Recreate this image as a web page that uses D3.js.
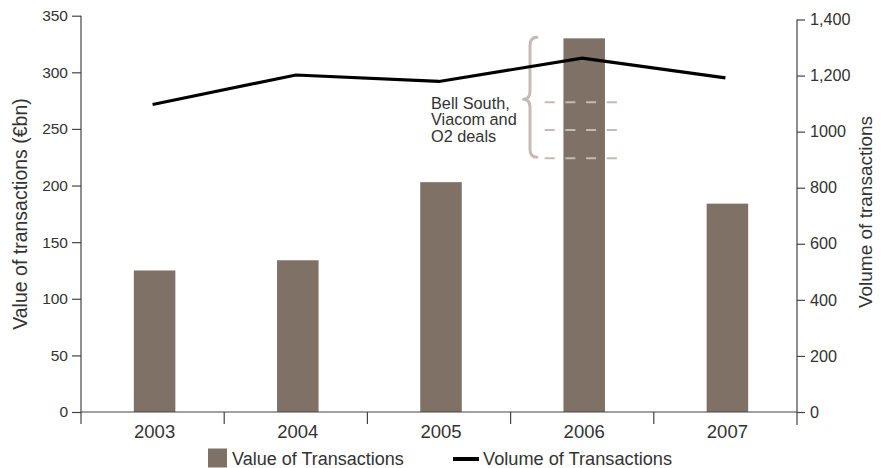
<!DOCTYPE html>
<html>
<head>
<meta charset="utf-8">
<script src="https://cdn.jsdelivr.net/npm/d3@7/dist/d3.min.js"></script>
<style>
  html, body { margin: 0; padding: 0; background: #fff; }
  svg { display: block; font-family: "Liberation Sans", Arial, Helvetica, sans-serif; }
</style>
</head>
<body>
<svg id="chart" width="884" height="468"></svg>
<script>
// Telecom M&A transactions, 2003–2007
const years = ["2003", "2004", "2005", "2006", "2007"];
const valueBn = [125, 134, 203, 330, 184];          // value of transactions (€bn)
const volume = [1097, 1202, 1179, 1262, 1192];      // number of transactions
const leftTicks = [0, 50, 100, 150, 200, 250, 300, 350];
const rightTicks = [0, 200, 400, 600, 800, 1000, 1200, 1400];
const rightTickLabels = ["0", "200", "400", "600", "800", "1000", "1,200", "1,400"];
const dealLines = ["Bell South,", "Viacom and", "O2 deals"];
const dealBracket = [225, 331];                      // €bn span covered by the three deals
const dealMarks = [273.5, 249, 224];                 // dashed reference levels (€bn)

const barColor = "#807167";
const textColor = "#333333";
const axisColor = "#444444";
const noteColor = "#c4bbb2";

const svg = d3.select("#chart");
const left = 81, right = 797, bottom = 412;

const x = d3.scaleBand().domain(years).range([left, right]).paddingInner(0).paddingOuter(0);
const yL = d3.scaleLinear().domain([0, 350]).range([bottom, 15.7]);
const yR = d3.scaleLinear().domain([0, 1400]).range([bottom, 19.5]);

// bars
const barW = x.bandwidth() * 0.29;
svg.append("g").selectAll("rect").data(years).join("rect")
  .attr("x", (d) => x(d) + x.bandwidth() / 2 - barW / 2 + 2)
  .attr("width", barW)
  .attr("y", (d, i) => yL(valueBn[i]))
  .attr("height", (d, i) => bottom - yL(valueBn[i]))
  .attr("fill", barColor);

// dashed reference lines over the 2006 bar
const c2006 = x("2006") + x.bandwidth() / 2;
svg.append("g").selectAll("line").data(dealMarks).join("line")
  .attr("x1", c2006 - 37.5).attr("x2", c2006 + 35.5)
  .attr("y1", (d) => yL(d)).attr("y2", (d) => yL(d))
  .attr("stroke", noteColor).attr("stroke-width", 2)
  .attr("stroke-dasharray", "10,10.7");

// curly bracket
(function () {
  const top = yL(dealBracket[1]), bot = yL(dealBracket[0]), mid = (top + bot) / 2 + 2;
  const bx = 530, tip = 523.5, hook = 537;
  const p = d3.path();
  p.moveTo(hook, top);
  p.quadraticCurveTo(bx, top, bx, top + 8);
  p.lineTo(bx, mid - 8);
  p.quadraticCurveTo(bx, mid, tip, mid);
  p.quadraticCurveTo(bx, mid, bx, mid + 8);
  p.lineTo(bx, bot - 8);
  p.quadraticCurveTo(bx, bot, hook, bot);
  svg.append("path").attr("d", p.toString())
    .attr("fill", "none").attr("stroke", noteColor).attr("stroke-width", 3)
    .attr("stroke-linecap", "round").attr("stroke-linejoin", "round");
})();

// annotation text
svg.append("text")
  .attr("x", 431).attr("y", 108.5)
  .attr("fill", textColor).attr("font-size", 16.3)
  .selectAll("tspan").data(dealLines).join("tspan")
  .attr("x", 431).attr("dy", (d, i) => i === 0 ? 0 : 16.8)
  .text((d) => d);

// volume line
const line = d3.line()
  .x((d, i) => x(years[i]) + x.bandwidth() / 2)
  .y((d) => yR(d));
svg.append("path").datum(volume)
  .attr("d", line)
  .attr("fill", "none").attr("stroke", "#000").attr("stroke-width", 3.2)
  .attr("stroke-linejoin", "miter");

// left axis
const gL = svg.append("g").attr("transform", `translate(${left},0)`)
  .call(d3.axisLeft(yL).tickValues(leftTicks).tickSize(9).tickPadding(4).tickFormat(d3.format("d")));
gL.select(".domain").remove();
gL.append("line").attr("x1", 0).attr("x2", 0).attr("y1", yL(350)).attr("y2", bottom + 12)
  .attr("stroke", axisColor).attr("stroke-width", 1.2);

// right axis
const gR = svg.append("g").attr("transform", `translate(${right},0)`)
  .call(d3.axisRight(yR).tickValues(rightTicks).tickSize(8).tickPadding(5)
    .tickFormat((d, i) => rightTickLabels[i]));
gR.select(".domain").remove();
gR.append("line").attr("x1", 0).attr("x2", 0).attr("y1", yR(1400)).attr("y2", bottom + 13)
  .attr("stroke", axisColor).attr("stroke-width", 1.2);

// bottom axis: baseline, boundary ticks, year labels
const gB = svg.append("g");
gB.append("line").attr("x1", left).attr("x2", right).attr("y1", bottom).attr("y2", bottom)
  .attr("stroke", axisColor).attr("stroke-width", 1.2);
gB.selectAll("line.sep").data(years.slice(1)).join("line").attr("class", "sep")
  .attr("x1", (d) => x(d)).attr("x2", (d) => x(d))
  .attr("y1", bottom).attr("y2", bottom + 12)
  .attr("stroke", axisColor).attr("stroke-width", 1.2);
gB.selectAll("text").data(years).join("text")
  .attr("x", (d) => x(d) + x.bandwidth() / 2 + 2)
  .attr("y", bottom + 25.5)
  .attr("text-anchor", "middle")
  .attr("fill", textColor).attr("font-size", 18.5)
  .text((d) => d);

gL.selectAll(".tick text").attr("font-size", 15.5);
gR.selectAll(".tick text").attr("font-size", 16.2);
[gL, gR].forEach((g) => {
  g.selectAll(".tick line").attr("stroke", axisColor).attr("stroke-width", 1.2);
  g.selectAll(".tick text").attr("fill", textColor)
    .attr("font-family", "Liberation Sans, Arial, sans-serif");
});

// axis titles
svg.append("text")
  .attr("transform", "translate(27,214) rotate(-90)")
  .attr("text-anchor", "middle").attr("fill", textColor).attr("font-size", 19.5)
  .text("Value of transactions (€bn)");
svg.append("text")
  .attr("transform", "translate(872,212) rotate(-90)")
  .attr("text-anchor", "middle").attr("fill", textColor).attr("font-size", 19)
  .text("Volume of transactions");

// legend
const lg = svg.append("g");
lg.append("rect").attr("x", 208).attr("y", 448.5).attr("width", 19).attr("height", 19).attr("fill", barColor);
lg.append("text").attr("x", 232).attr("y", 464.5).attr("fill", textColor).attr("font-size", 18)
  .text("Value of Transactions");
lg.append("line").attr("x1", 453).attr("x2", 479).attr("y1", 459).attr("y2", 459)
  .attr("stroke", "#000").attr("stroke-width", 4);
lg.append("text").attr("x", 483).attr("y", 464.5).attr("fill", textColor).attr("font-size", 18.2)
  .text("Volume of Transactions");
</script>
</body>
</html>
